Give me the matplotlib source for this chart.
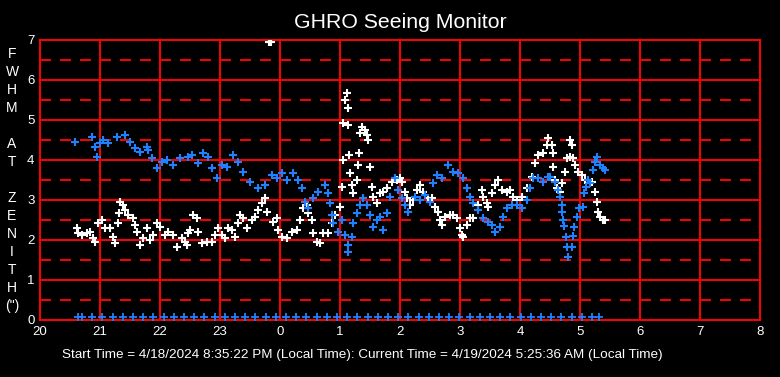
import numpy as np
import matplotlib
matplotlib.use("Agg")
import matplotlib.pyplot as plt

plt.rcParams["font.family"] = ["Liberation Sans", "DejaVu Sans"]
plt.rcParams["lines.scale_dashes"] = False

# hours since midnight of the start day (24.5 == 00:30 next day)
blue_times = [
    20.583, 20.867, 20.917, 20.95, 21.0, 21.05, 21.133, 21.283, 21.417, 21.5,
    21.583, 21.667, 21.783, 21.8, 21.867, 21.95, 22.033, 22.117, 22.217, 22.333,
    22.467, 22.533, 22.633, 22.717, 22.8, 22.867, 22.95, 23.033, 23.117, 23.217,
    23.3, 23.383, 23.5, 23.633, 23.75, 23.867, 23.95, 24.033, 24.117, 24.217,
    24.3, 24.367, 24.417, 24.467, 24.55, 24.633, 24.75, 24.8, 24.833, 24.867,
    24.883, 24.967, 25.033, 25.083, 25.133, 25.14, 25.2, 25.217, 25.283, 25.333,
    25.383, 25.45, 25.5, 25.55, 25.617, 25.667, 25.717, 25.783, 25.833, 25.917,
    25.967, 26.033, 26.083, 26.133, 26.25, 26.333, 26.417, 26.5, 26.55, 26.617,
    26.7, 26.8, 26.883, 26.967, 27.05, 27.117, 27.167, 27.217, 27.3, 27.383,
    27.467, 27.533, 27.583, 27.667, 27.717, 27.783, 27.867, 27.95, 28.033, 28.117,
    28.167, 28.217, 28.3, 28.383, 28.467, 28.5, 28.583, 28.633, 28.667, 28.7,
    28.703, 28.717, 28.733, 28.767, 28.783, 28.8, 28.867, 28.883, 28.9, 28.95,
    28.983, 29.05, 29.067, 29.1, 29.133, 29.167, 29.217, 29.25, 29.283, 29.333,
    29.383, 29.417,
]
blue_fwhm = [
    4.45, 4.58, 4.33, 4.08, 4.43, 4.5, 4.43, 4.58, 4.63, 4.45,
    4.3, 4.2, 4.33, 4.25, 4.05, 3.8, 3.95, 4.0, 3.88, 4.05,
    4.08, 4.13, 3.93, 4.17, 4.08, 3.8, 3.55, 3.88, 3.83, 4.13,
    3.95, 3.7, 3.45, 3.3, 3.38, 3.63, 3.55, 3.68, 3.5, 3.68,
    3.5, 3.3, 2.95, 2.8, 3.05, 3.2, 3.38, 3.18, 2.93, 2.63,
    2.43, 2.2, 2.5, 2.13, 1.88, 1.7, 2.08, 2.43, 2.68, 2.88,
    3.05, 2.88, 2.63, 2.33, 2.5, 2.58, 2.25, 2.68, 3.08, 3.55,
    3.25, 3.05, 2.88, 2.7, 3.08, 3.0, 3.13, 2.95, 3.43, 3.63,
    3.55, 3.88, 3.7, 3.68, 3.55, 3.3, 3.08, 2.93, 2.75, 2.55,
    2.45, 2.38, 2.2, 2.33, 2.58, 2.8, 2.88, 2.88, 2.8, 3.0,
    3.3, 3.55, 3.55, 3.45, 3.58, 3.58, 3.45, 3.25, 3.08, 2.88,
    2.7, 2.5, 2.35, 2.08, 1.83, 1.58, 1.83, 2.1, 2.33, 2.58,
    2.8, 2.83, 3.18, 3.33, 3.5, 3.43, 3.75, 3.95, 4.08, 3.88,
    3.8, 3.75,
]

white_times = [
    20.617, 20.633, 20.7, 20.783, 20.833, 20.883, 20.917, 20.967, 21.033, 21.083,
    21.167, 21.217, 21.25, 21.3, 21.31, 21.333, 21.383, 21.417, 21.467, 21.55,
    21.583, 21.617, 21.667, 21.717, 21.783, 21.833, 21.883, 21.95, 22.0, 22.083,
    22.133, 22.217, 22.283, 22.367, 22.417, 22.45, 22.467, 22.5, 22.55, 22.617,
    22.633, 22.7, 22.783, 22.867, 22.917, 22.967, 23.033, 23.083, 23.133, 23.2,
    23.25, 23.3, 23.333, 23.383, 23.45, 23.533, 23.583, 23.633, 23.7, 23.75,
    23.783, 23.82, 23.85, 23.883, 23.95, 23.967, 24.033, 24.117, 24.2, 24.283,
    24.333, 24.383, 24.45, 24.467, 24.533, 24.55, 24.617, 24.667, 24.717, 24.8,
    24.867, 24.917, 25.0, 25.033, 25.05, 25.052, 25.083, 25.117, 25.133, 25.135,
    25.15, 25.167, 25.2, 25.217, 25.283, 25.3, 25.317, 25.333, 25.367, 25.417,
    25.45, 25.467, 25.5, 25.533, 25.55, 25.617, 25.667, 25.717, 25.783, 25.867,
    25.95, 26.0, 26.033, 26.083, 26.117, 26.167, 26.217, 26.283, 26.333, 26.383,
    26.467, 26.533, 26.583, 26.633, 26.667, 26.7, 26.75, 26.833, 26.883, 26.95,
    27.0, 27.033, 27.05, 27.117, 27.167, 27.217, 27.3, 27.367, 27.383, 27.45,
    27.467, 27.533, 27.583, 27.633, 27.7, 27.783, 27.833, 27.883, 27.95, 28.033,
    28.117, 28.2, 28.25, 28.3, 28.383, 28.45, 28.467, 28.533, 28.55, 28.553,
    28.583, 28.617, 28.667, 28.7, 28.75, 28.783, 28.833, 28.835, 28.867, 28.883,
    28.917, 28.967, 29.033, 29.083, 29.2, 29.25, 29.283, 29.3, 29.333, 29.383,
    29.417,
]
white_fwhm = [
    2.3, 2.18, 2.13, 2.18, 2.2, 2.05, 1.95, 2.43, 2.5, 2.3,
    2.3, 2.08, 1.93, 2.43, 2.68, 2.95, 2.88, 2.75, 2.63, 2.55,
    2.38, 2.2, 1.88, 2.05, 2.3, 2.0, 2.13, 2.43, 2.33, 2.13,
    2.2, 2.13, 1.83, 2.05, 1.95, 1.88, 2.18, 2.25, 2.63, 2.55,
    2.2, 1.93, 1.95, 1.95, 2.13, 2.3, 2.13, 2.05, 2.3, 2.25,
    2.08, 2.43, 2.63, 2.55, 2.3, 2.5, 2.58, 2.75, 2.93, 3.05,
    2.7, 6.95, 6.95, 2.45, 2.55, 2.25, 2.08, 2.05, 2.2, 2.25,
    2.5, 2.8, 2.88, 2.68, 2.5, 2.18, 1.95, 1.93, 2.18, 2.18,
    2.43, 2.63, 2.83, 3.33, 4.0, 4.93, 5.5, 5.68, 5.3, 4.88,
    4.13, 3.68, 3.38, 3.18, 3.5, 3.88, 4.18, 4.68, 4.83, 4.75,
    4.63, 4.5, 3.83, 3.33, 3.08, 2.93, 3.18, 3.2, 3.3, 3.45,
    3.5, 3.55, 3.45, 3.2, 3.05, 2.88, 3.0, 3.25, 3.38, 3.2,
    3.05, 3.05, 2.83, 2.7, 2.5, 2.38, 2.58, 2.63, 2.63, 2.55,
    2.3, 2.13, 2.08, 2.38, 2.55, 2.55, 2.88, 3.25, 3.08, 2.93,
    2.83, 3.18, 3.38, 3.5, 3.25, 3.2, 3.25, 3.08, 3.0, 3.08,
    3.3, 3.58, 3.93, 4.13, 4.18, 4.38, 4.55, 4.38, 4.18, 3.83,
    3.5, 3.3, 3.2, 3.43, 3.7, 4.05, 4.08, 4.5, 4.38, 4.05,
    3.88, 3.7, 3.63, 3.5, 3.45, 3.2, 2.95, 2.7, 2.58, 2.5,
    2.5,
]

# readings with no measurement, drawn along the floor
zero_times = [
    20.63, 20.70, 20.87, 21.04, 21.21, 21.38, 21.55, 21.72, 21.89, 22.06,
    22.23, 22.40, 22.57, 22.74, 22.91, 23.08, 23.25, 23.42, 23.59, 23.76,
    23.93, 24.10, 24.27, 24.44, 24.61, 24.78, 24.95, 25.12, 25.29, 25.46,
    25.63, 25.80, 25.97, 26.14, 26.31, 26.48, 26.65, 26.82, 26.99, 27.16,
    27.33, 27.50, 27.67, 27.84, 28.01, 28.18, 28.35, 28.52, 28.69, 28.86,
    29.03, 29.20, 29.32,
]
zero_fwhm = [0.07] * len(zero_times)

hour_ticks = list(range(20, 33))
hour_labels = ["20", "21", "22", "23", "0", "1", "2", "3", "4", "5", "6", "7", "8"]
y_ticks = list(range(0, 8))

start_text = "Start Time = 4/18/2024 8:35:22 PM (Local Time): Current Time = 4/19/2024 5:25:36 AM (Local Time)"

grid_red = "#FF0000"
blue = "#1E82FF"

fig = plt.figure(figsize=(7.8, 3.77), dpi=100, facecolor="black")
ax = fig.add_axes([40 / 780, 57 / 377, 720 / 780, 280 / 377], facecolor="black")
ax.set_xlim(20, 32)
ax.set_ylim(0, 7)

for x in hour_ticks[1:-1]:
    ax.axvline(x, color=grid_red, lw=1.4, zorder=1)
for y in y_ticks[1:-1]:
    ax.axhline(y, color=grid_red, lw=1.4, zorder=1)
for y in np.arange(0.5, 7, 1.0):
    ax.axhline(y, color=grid_red, lw=1.4, dashes=(7.9, 6.5), zorder=1)

mk = dict(marker="+", linestyle="none", markersize=6, markeredgewidth=1.5, zorder=3)
ax.plot(white_times, white_fwhm, color="white", **mk)
ax.plot(blue_times, blue_fwhm, color=blue, **mk)
ax.plot(zero_times, zero_fwhm, color=blue, marker="+", linestyle="none",
        markersize=5.5, markeredgewidth=1.3, zorder=3)

for s in ax.spines.values():
    s.set_color(grid_red)
    s.set_linewidth(1.4)

ax.set_xticks(hour_ticks)
ax.set_xticklabels(hour_labels)
ax.set_yticks(y_ticks)
ax.tick_params(colors="white", length=0, labelsize=9.5, pad=4)

ax.set_title("GHRO Seeing Monitor", color="white", fontsize=15.3, pad=9)

fig.text(12 / 780, 1 - 180 / 377, "F\nW\nH\nM\n\nA\nT\n\nZ\nE\nN\nI\nT\nH\n(\")",
         color="white", fontsize=10, ha="center", va="center", linespacing=1.37)
fig.text(362 / 780, 1 - 355 / 377, start_text, color="white", fontsize=9.7,
         ha="center", va="center")

plt.savefig("out.png", dpi=100, facecolor="black")
plt.close()
